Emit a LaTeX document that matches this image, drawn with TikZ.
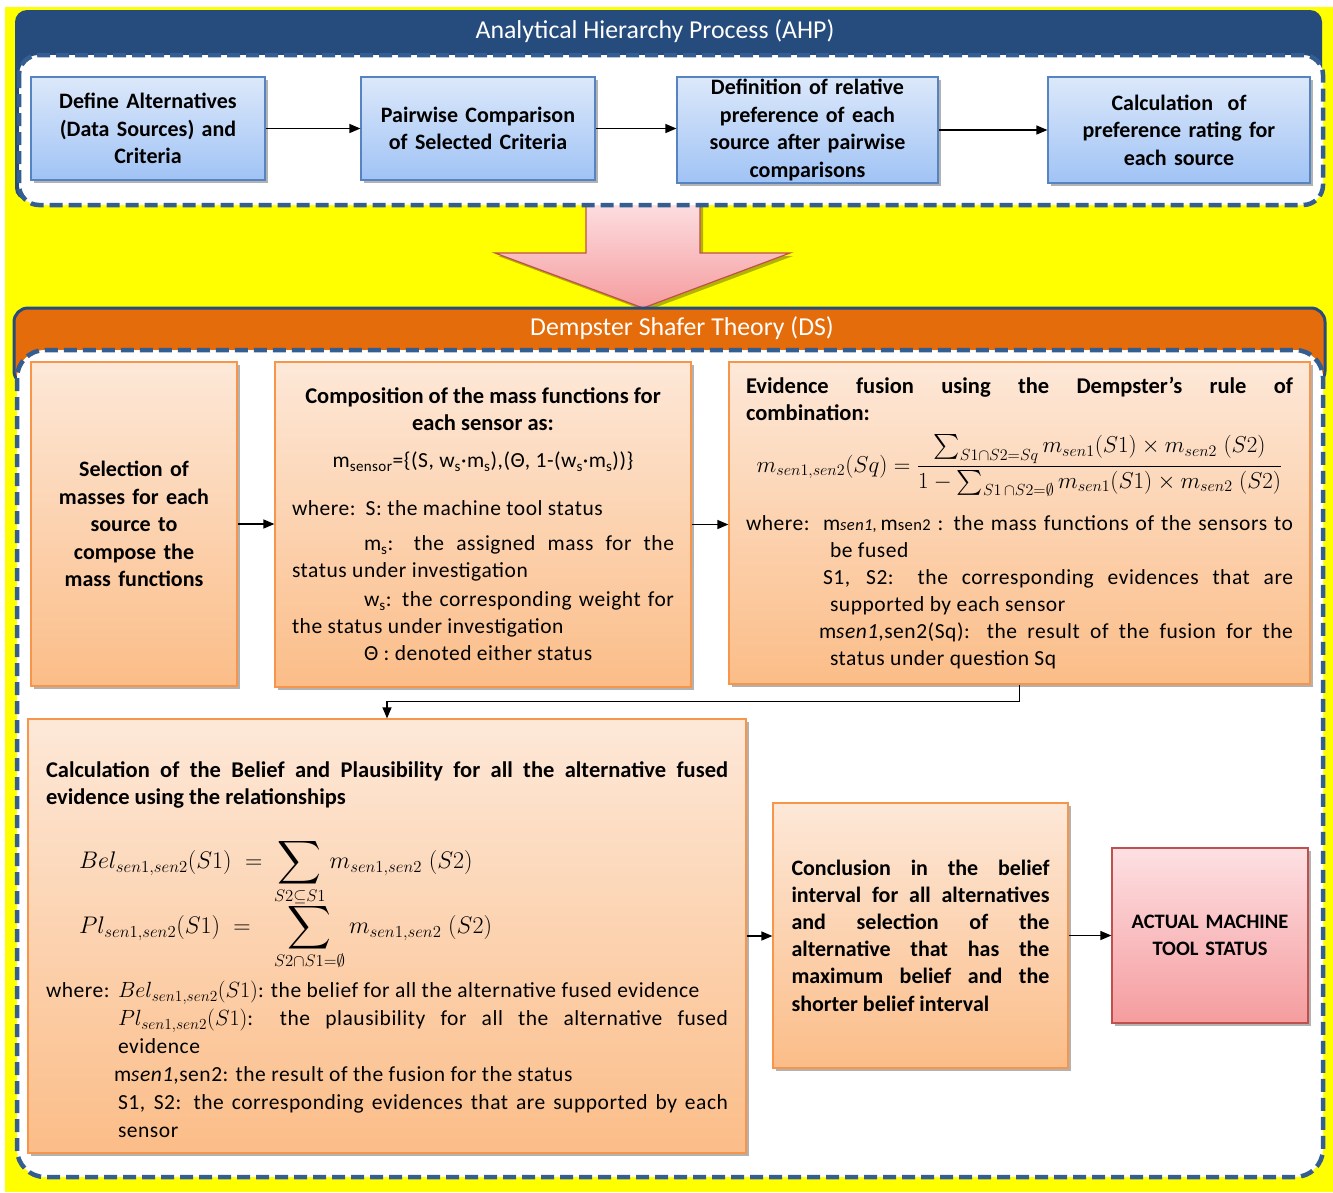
\RequirePackage{fix-cm}
\documentclass[tikz,border=0pt]{standalone}
\usepackage{amsmath}
\usepackage{graphicx}
\usepackage{fontspec}
\setmainfont{Carlito}
\newfontfamily\spacedfont{Carlito}[LetterSpace=2.5]
\usetikzlibrary{shadows,arrows.meta}

\definecolor{bgyellow}{HTML}{FFFF00}
\definecolor{ahpblue}{HTML}{264B7D}
\definecolor{dashblue}{HTML}{345E91}
\definecolor{dsorange}{HTML}{E46C0A}
\definecolor{ahptop}{HTML}{DCE8FA}
\definecolor{ahpbot}{HTML}{A0C3F5}
\definecolor{ahpline}{HTML}{5584C1}
\definecolor{dstop}{HTML}{FDE8D8}
\definecolor{dsbot}{HTML}{FBBD88}
\definecolor{dsline}{HTML}{F7964A}
\definecolor{pktop}{HTML}{FDE0E3}
\definecolor{pkbot}{HTML}{F59C9E}
\definecolor{pkline}{HTML}{C0504D}

% enlarged display sum with limits tucked close below
\newcommand\bigsum[1]{\mathop{\vcenter{\hbox{\scalebox{1.22}{$\displaystyle\sum$}}}}\limits_{\raisebox{1pt}{$\scriptstyle\smash[t]{#1}$}}}
% fixed baseline distances regardless of line content
\newcommand\tightlines{\lineskiplimit=-1000pt\lineskip=0pt\relax}
\newcommand\bodyfont{\fontsize{21.5}{27}\spacedfont\tightlines}
\newcommand\headfont{\normalfont\bfseries\fontsize{22.5}{27}\selectfont}
\newcommand\subfont{\fontsize{16.5}{20}\selectfont}
\newcommand\mfont{\fontsize{22}{27}\selectfont}

\tikzset{
  boxshadow/.style={drop shadow={shadow xshift=3pt,shadow yshift=-3pt,opacity=0.3,fill=black}},
  ahpbox/.style={draw=ahpline, line width=1.2pt, top color=ahptop, bottom color=ahpbot,
    boxshadow, inner sep=0pt, align=center, font=\fontsize{22}{27.5}\selectfont\bfseries},
  dsbox/.style={draw=dsline, line width=1.2pt, top color=dstop, bottom color=dsbot,
    boxshadow, inner sep=0pt},
  flow/.style={-{Triangle[length=11pt,width=9pt]}, line width=1.3pt},
  dashframe/.style={draw=dashblue, line width=4.5pt, dash pattern=on 13pt off 6pt, fill=white},
  paneltitle/.style={text=white, font=\fontsize{25.8}{30}\selectfont},
}

\begin{document}
\begin{tikzpicture}[x=1pt,y=-1pt]
\useasboundingbox (0,0) rectangle (1333,1192);
\fill[white] (0,0) rectangle (1333,1192);
\fill[bgyellow] (5,7) rectangle (1333,1192);

% transition arrow from AHP to DS
\path[draw=pkline, line width=1.2pt, top color=pktop, bottom color=pkbot, boxshadow]
  (586,200) -- (700,200) -- (700,253) -- (790,253) -- (643,308) -- (495,253) -- (586,253) -- cycle;

% AHP panel
\fill[ahpblue, rounded corners=12pt] (15,10) rectangle (1322,200);
\path[dashframe, rounded corners=20pt] (19,55) rectangle (1323,205);
\node[paneltitle] (ahptitle) at (655,31) {Analytical Hierarchy Process (AHP)};

% DS panel
\draw[ahpblue, line width=3pt, fill=dsorange, rounded corners=14pt] (14,308) rectangle (1325,385);
\path[dashframe, rounded corners=28pt] (17,350) rectangle (1323,1177);
\node[paneltitle] (dstitle) at (682,328) {Dempster Shafer Theory (DS)};

% AHP steps
\node[ahpbox, minimum width=234pt, minimum height=103pt, text width=234pt] (ahp1) at (148,128.5)
  {Define Alternatives\\(Data Sources) and\\Criteria};
\node[ahpbox, minimum width=234pt, minimum height=103pt, text width=234pt] (ahp2) at (478,128.5)
  {Pairwise Comparison\\of Selected Criteria};
\node[ahpbox, minimum width=261pt, minimum height=106pt, text width=261pt] (ahp3) at (807.5,130)
  {Definition of relative\\preference of each\\source after pairwise\\comparisons};
\node[ahpbox, minimum width=262pt, minimum height=106pt, text width=262pt] (ahp4) at (1179,130)
  {Calculation\ \ of\\preference rating for\\each source};

\draw[flow] (ahp1.east) -- (ahp2.west);
\draw[flow] (ahp2.east) -- (ahp2.east -| ahp3.west);
\draw[flow] (ahp3.east) -- (ahp4.west);

% DS steps
\node[dsbox, minimum width=206pt, minimum height=324pt, text width=206pt, align=center,
  font=\fontsize{22}{27.5}\selectfont\bfseries] (sel) at (134,524)
  {Selection of\\masses for each\\source to\\compose the\\mass functions};

\node[dsbox, minimum width=416pt, minimum height=325pt, text width=382pt, align=justify,
  font=\bodyfont] (comp) at (483,524.5) {%
  {\centering\headfont Composition of the mass functions for\\each sensor as:\par}
  \vspace{10pt}
  {\centering m\textsubscript{sensor}=\{(S, w\textsubscript{s}·m\textsubscript{s}),(Θ, 1-(w\textsubscript{s}·m\textsubscript{s}))\}\par}
  \vspace{21pt}
  where:\hspace{10pt}S: the machine tool status\par
  \vspace{8pt}
  \hspace*{72pt}m\textsubscript{s}: the assigned mass for the\linebreak status under investigation\par
  \vspace{2pt}
  \hspace*{72pt}w\textsubscript{s}: the corresponding weight for\linebreak the status under investigation\par
  \hspace*{72pt}Θ : denoted either status\par};

\node[dsbox, minimum width=581pt, minimum height=322pt, text width=547pt, align=justify,
  font=\bodyfont] (fuse) at (1019.5,523) {%
  {\headfont Evidence fusion using the Dempster’s rule of\linebreak combination:\par}
  \vspace{25pt}
  {\centering\fontsize{23}{27}\selectfont
   $m_{sen1,sen2}(Sq)=\dfrac{\sum_{S1\cap S2=Sq}m_{sen1}(S1)\times m_{sen2}\;(S2)}{1-\sum_{S1\,\cap S2=\emptyset}m_{sen1}(S1)\times m_{sen2}\;(S2)}$\par}
  \vspace{31pt}
  {\leftskip=84pt
  \noindent\hspace*{-84pt}\makebox[77pt][l]{where:}m{\subfont\itshape sen1,}\,m{\subfont sen2} : the mass functions of the sensors to\linebreak be fused\par
  \hspace*{-7pt}S1, S2: the corresponding evidences that are\linebreak supported by each sensor\par
  \hspace*{-11pt}m{\itshape sen1},sen2(Sq): the result of the fusion for the\linebreak status under question Sq\par}};

\node[dsbox, minimum width=718pt, minimum height=434pt, text width=682pt, align=justify,
  font=\bodyfont] (belief) at (387,936) {%
  {\headfont\rule{0pt}{44pt}Calculation of the Belief and Plausibility for all the alternative fused\linebreak evidence using the relationships\par}
  \vspace{37pt}
  {\fontsize{24}{27}\selectfont\hspace*{33pt}\makebox[195pt][l]{$Bel_{sen1,sen2}(S1)\;=$}$\bigsum{S2\subseteq S1} m_{sen1,sen2}\;(S2)$\par}
  \vspace{38pt}
  {\fontsize{24}{27}\selectfont\hspace*{33pt}\makebox[195pt][l]{$Pl_{sen1,sen2}(S1)\;=$}$\bigsum{S2\cap S1=\emptyset} m_{sen1,sen2}\;(S2)$\par}
  \vspace{36pt}
  {\leftskip=72pt\baselineskip=28pt
  \noindent\hspace*{-72pt}\makebox[72pt][l]{where:}{\mfont$Bel_{sen1,sen2}(S1)$}: the belief for all the alternative fused evidence\par
  {\mfont$Pl_{sen1,sen2}(S1)$}: the plausibility for all the alternative fused\linebreak evidence\par
  \hspace*{-4pt}m{\itshape sen1},sen2: the result of the fusion for the status\par
  S1, S2: the corresponding evidences that are supported by each\linebreak sensor\par}};

\node[dsbox, minimum width=295pt, minimum height=265pt, text width=258pt, align=justify,
  font=\fontsize{22}{27.2}\selectfont\bfseries\tightlines] (concl) at (920.5,935.5)
  {Conclusion in the belief\linebreak interval for all alternatives\linebreak and selection of the\linebreak alternative that has the\linebreak maximum belief and the\linebreak shorter belief interval};

\node[draw=pkline, line width=1.2pt, top color=pktop, bottom color=pkbot, boxshadow,
  minimum width=196pt, minimum height=175pt, text width=196pt, align=center, inner sep=0pt,
  font=\fontsize{20.5}{27}\selectfont\bfseries] (status) at (1210,935.5) {ACTUAL MACHINE\\TOOL STATUS};

\draw[flow] (sel.east) -- (sel.east -| comp.west);
\draw[flow] (comp.east) -- (comp.east -| fuse.west);
\draw[flow] (fuse.south) -- ++(0,17) -| (belief.north);
\draw[flow] (belief.east) -- (belief.east -| concl.west);
\draw[flow] (concl.east) -- (concl.east -| status.west);
\end{tikzpicture}
\end{document}
